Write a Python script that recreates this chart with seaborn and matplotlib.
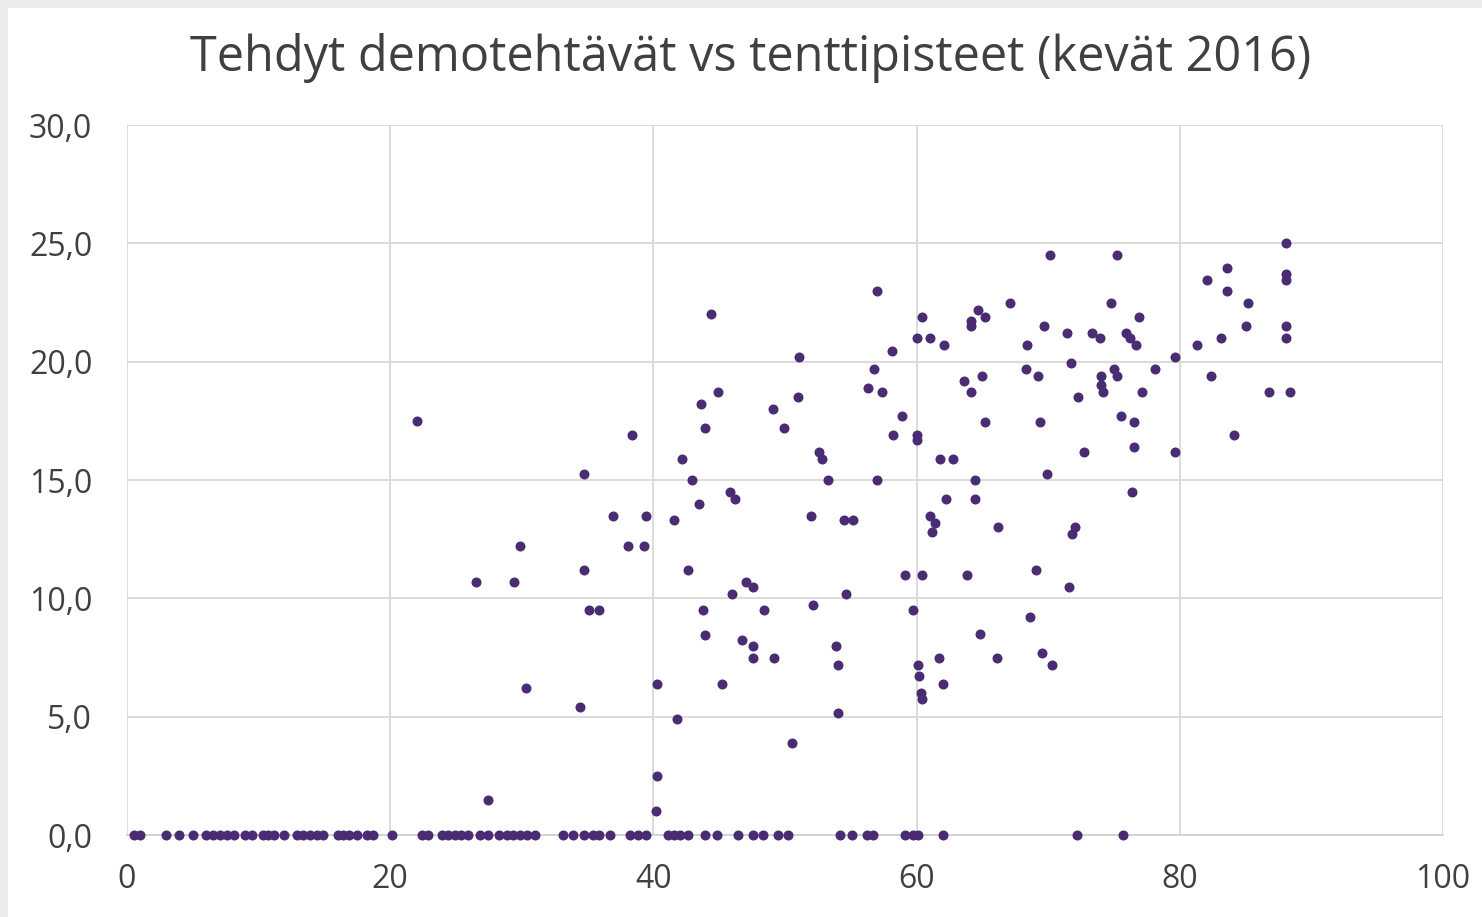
import matplotlib
matplotlib.use("Agg")
import matplotlib.pyplot as plt
import matplotlib.patches as mpatches
from matplotlib.ticker import FuncFormatter, MultipleLocator
import seaborn as sb
import pandas as pd

# demo exercises done (%) and exam points
zero_demo = [0.5, 1.0, 3.0, 3.95, 5.0, 6.0, 6.5, 7.1, 7.6, 8.1, 9.0, 9.5, 10.3, 10.7,
             11.2, 11.9, 12.9, 13.4, 13.9, 14.4, 14.9, 16.0, 16.4, 16.9, 17.5, 18.2,
             18.7, 20.1, 22.4, 22.9, 23.9, 24.4, 24.9, 25.4, 25.9, 26.8, 27.4, 28.3,
             28.9, 29.3, 29.9, 30.4, 31.0, 33.1, 33.9, 34.7, 35.4, 35.9, 36.7, 38.2,
             38.8, 39.4, 41.1, 41.6, 42.0, 42.6, 43.9, 44.8, 46.4, 47.6, 48.3, 49.5,
             50.2, 54.2, 55.1, 56.2, 56.7, 59.1, 59.7, 60.1, 62.0, 72.2, 75.7]

demo = [22.0, 26.5, 27.4, 29.4, 29.9, 30.3, 34.4, 34.7, 34.7, 35.1, 35.9, 36.9, 38.1,
        38.4, 39.3, 39.4, 40.3, 40.3, 40.2, 41.6, 41.8, 42.2, 42.6, 42.9, 43.5, 43.6,
        43.9, 43.8, 43.9, 44.4, 44.9, 45.2, 45.8, 46.2, 46.0, 46.7, 47.0, 47.6, 47.6,
        47.6, 48.4, 49.1, 49.2, 49.9, 50.5, 51.0, 51.1, 52.0, 52.1, 52.6, 52.8, 53.3,
        53.9, 54.0, 54.0, 54.5, 54.6, 55.2, 56.3, 56.8, 57.0, 57.0, 57.4, 58.1, 58.2,
        58.9, 59.1, 59.7, 60.0, 60.0, 60.0, 60.1, 60.2, 60.3, 60.4, 60.4, 60.4, 61.0,
        61.0, 61.2, 61.4, 61.7, 61.8, 62.1, 62.0, 62.2, 62.8, 63.6, 63.8, 64.1, 64.1,
        64.1, 64.4, 64.4, 64.7, 64.8, 65.0, 65.2, 65.2, 66.2, 66.1, 67.1, 68.4, 68.3,
        68.6, 69.1, 69.2, 69.4, 69.5, 69.7, 69.9, 70.1, 70.3, 71.4, 71.6, 71.7, 71.8,
        72.0, 72.3, 72.7, 73.3, 73.9, 74.0, 74.0, 74.2, 74.8, 75.0, 75.2, 75.2, 75.5,
        75.9, 76.2, 76.5, 76.5, 76.4, 76.7, 76.9, 77.1, 78.1, 79.6, 79.6, 81.3, 82.1,
        82.4, 83.1, 83.6, 83.6, 84.1, 85.0, 85.2, 86.8, 88.1, 88.1, 88.1, 88.1, 88.1,
        88.4]

points = [17.5, 10.7, 1.5, 10.7, 12.2, 6.2, 5.4, 15.25, 11.2, 9.5, 9.5, 13.5, 12.2,
          16.9, 12.2, 13.5, 6.4, 2.5, 1.0, 13.3, 4.9, 15.9, 11.2, 15.0, 14.0, 18.2,
          17.2, 9.5, 8.45, 22.0, 18.7, 6.4, 14.5, 14.2, 10.2, 8.25, 10.7, 10.5, 8.0,
          7.5, 9.5, 18.0, 7.5, 17.2, 3.9, 18.5, 20.2, 13.5, 9.7, 16.2, 15.9, 15.0,
          8.0, 7.2, 5.15, 13.3, 10.2, 13.3, 18.9, 19.7, 23.0, 15.0, 18.7, 20.45, 16.9,
          17.7, 11.0, 9.5, 21.0, 16.9, 16.7, 7.2, 6.7, 6.0, 5.75, 21.9, 11.0, 21.0,
          13.5, 12.8, 13.2, 7.5, 15.9, 20.7, 6.4, 14.2, 15.9, 19.2, 11.0, 21.7, 21.5,
          18.7, 15.0, 14.2, 22.2, 8.5, 19.4, 21.9, 17.45, 13.0, 7.5, 22.5, 20.7, 19.7,
          9.2, 11.2, 19.4, 17.45, 7.7, 21.5, 15.25, 24.5, 7.2, 21.2, 10.5, 19.95, 12.7,
          13.0, 18.5, 16.2, 21.2, 21.0, 19.4, 19.0, 18.7, 22.5, 19.7, 24.5, 19.4, 17.7,
          21.2, 21.0, 17.45, 16.4, 14.5, 20.7, 21.9, 18.7, 19.7, 20.2, 16.2, 20.7, 23.45,
          19.4, 21.0, 23.95, 23.0, 16.9, 21.5, 22.5, 18.7, 25.0, 23.7, 23.45, 21.5, 21.0,
          18.7]

title = "Tehdyt demotehtävät vs tenttipisteet (kevät 2016)"

df = pd.DataFrame({
    "demot": zero_demo + demo,
    "pisteet": [0.0] * len(zero_demo) + points,
})

sb.set_style("white")
plt.rcParams["font.family"] = ["Open Sans", "DejaVu Sans"]

fig = plt.figure(figsize=(14.82, 9.17), dpi=100)
fig.patch.set_facecolor("white")
# light grey frame along the top and left edge of the screenshot
fig.patches.append(mpatches.Rectangle((0, 1 - 8 / 917), 1, 8 / 917,
                                      transform=fig.transFigure, facecolor="#ececec",
                                      edgecolor="none", zorder=-10))
fig.patches.append(mpatches.Rectangle((0, 0), 8 / 1482, 1,
                                      transform=fig.transFigure, facecolor="#ececec",
                                      edgecolor="none", zorder=-10))
ax = fig.add_axes([127 / 1482, 1 - 835 / 917, (1443 - 127) / 1482, (835 - 125) / 917])
ax.set_facecolor("white")

sb.scatterplot(data=df, x="demot", y="pisteet", ax=ax, color="#4a2c74", s=52,
               linewidth=0, zorder=3, clip_on=False)

ax.set_xlim(0, 100)
ax.set_ylim(0, 30)
ax.xaxis.set_major_locator(MultipleLocator(20))
ax.yaxis.set_major_locator(MultipleLocator(5))
ax.yaxis.set_major_formatter(FuncFormatter(lambda v, p: f"{v:.1f}".replace(".", ",")))
ax.grid(True, color="#d9d9d9", linewidth=1.3)
for side in ["top", "right", "left"]:
    ax.spines[side].set_visible(False)
ax.spines["bottom"].set_color("#d0d0d0")
ax.spines["bottom"].set_linewidth(1.3)
ax.set_xlabel("")
ax.set_ylabel("")
ax.tick_params(axis="both", length=0, labelsize=23, colors="#404040")
ax.tick_params(axis="x", pad=20)
ax.tick_params(axis="y", pad=25)

fig.text(751 / 1482, 1 - 58 / 917, title, ha="center", va="center", fontsize=35,
         color="#404040")

fig.savefig("out.png", dpi=100, facecolor=fig.get_facecolor())
